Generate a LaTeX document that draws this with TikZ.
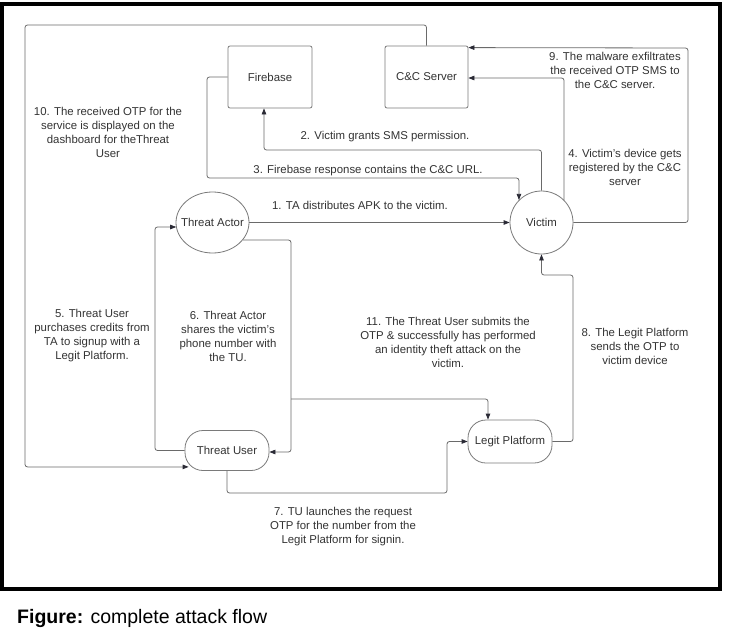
\documentclass[tikz,border=0pt]{standalone}
\usepackage{fontspec}
\setmainfont{Liberation Sans}
\usetikzlibrary{shapes.geometric,calc,arrows.meta}
\definecolor{linec}{HTML}{6A6A6A}
\definecolor{boxc}{HTML}{7A7A7A}
\definecolor{txtc}{HTML}{333333}
\definecolor{tipc}{HTML}{2A2A35}
\begin{document}
\begin{tikzpicture}[x=1pt,y=-1pt,
  conn/.style={draw=linec, line width=0.8pt, rounded corners=2.5pt,
    -{Triangle[length=6pt,width=4.5pt,color=tipc]}},
  plainline/.style={draw=linec, line width=0.8pt, rounded corners=2.5pt},
  box/.style={draw=boxc, line width=0.8pt, rounded corners=2pt, minimum width=84pt,
    minimum height=62pt, text=txtc, font=\fontsize{11.4}{14}\selectfont},
  ell/.style={draw=boxc, line width=0.8pt, ellipse, inner sep=0pt, text=txtc,
    font=\fontsize{11.4}{14}\selectfont},
  pill/.style={draw=boxc, line width=0.8pt, rounded corners=18pt, minimum width=84pt,
    text=txtc, font=\fontsize{11.4}{14}\selectfont},
  lbl/.style={text=txtc, font=\fontsize{11.4}{14}\selectfont, align=center, inner sep=0pt}]
\useasboundingbox (0,0) rectangle (730,629);
\fill[white] (0,0) rectangle (730,629);
\draw[line width=4pt] (2,3.5) rectangle (720,588.5);

% nodes
\node[box] (fb) at (270,77) {Firebase};
\node[box, minimum width=83pt] (cc) at (426.5,77) {C\&C Server};
\node[ell, minimum width=73pt, minimum height=61pt] (ta) at (212.5,222.5) {\makebox[0pt]{Threat Actor}};
\node[ell, minimum width=63pt, minimum height=63pt] (vic) at (541.5,222.5) {\makebox[0pt]{Victim}};
\node[pill, minimum height=40pt] (tu) at (227,450.5) {Threat User};
\node[pill, minimum height=43pt] (lp) at (510,441.5) {Legit Platform};

% connectors
\draw[conn] (ta.east) -- (vic.west);
\draw[conn] (vic.north) |- (264,150) -- (264,0 |- fb.south);
\draw[conn] (fb.west) -| (207,178) -| (vic.north west);
\draw[conn] (vic.north east) |- ($(cc.east)+(0,1)$);
\draw[conn] (vic.east) -| (688,48) -- ($(cc.north east)+(0,2)$);
\draw[conn] (cc.north) |- (25,25) |- ($(tu.south west)+(4,-4)$);
\draw[conn] (tu.west) -| (155,227) -- ($(ta.west)+(0.6,4.5)$);
\draw[conn] (ta.-30) -| (291,452) -- ($(tu.east)+(0,1.5)$);
\coordinate (j11) at (291,399);
\draw[conn] (j11) -| ($(lp.north)+(-22,0)$);
\draw[conn] (tu.south) |- (447,493) |- (lp.west);
\draw[conn] (lp.east) -| (573,275) -| (vic.south);

% labels
\node[lbl] (l10) at (108,132) {10. The received OTP for the\\service is displayed on the\\dashboard for theThreat\\User};
\node[lbl] (l2) at (385,136.5) {2. Victim grants SMS permission.};
\node[lbl] (l3) at (368,170.5) {3. Firebase response contains the C\&C URL.};
\node[lbl] (l1) at (360,205.5) {1. TA distributes APK to the victim.};
\node[lbl] (l9) at (615,70) {9. The malware exfiltrates\\the received OTP SMS to\\the C\&C server.};
\node[lbl] (l4) at (625,167) {4. Victim's device gets\\registered by the C\&C\\server};
\node[lbl] (l5) at (92,336) {5. Threat User\\purchases credits from\\TA to signup with a\\Legit Platform.};
\node[lbl] (l6) at (228,336) {6. Threat Actor\\shares the victim's\\phone number with\\the TU.};
\node[lbl] (l11) at (448,342) {11. The Threat User submits the\\OTP \& successfully has performed\\an identity theft attack on the\\victim.};
\node[lbl] (l8) at (635,346) {8. The Legit Platform\\sends the OTP to\\victim device};
\node[lbl] (l7) at (343,527) {7. TU launches the request\\OTP for the number from the\\Legit Platform for signin.};

\node[anchor=base west, inner sep=0pt, font=\fontsize{19.5}{22}\selectfont] (cap) at (17,623) {\textbf{Figure:} complete attack flow};
\end{tikzpicture}
\end{document}
